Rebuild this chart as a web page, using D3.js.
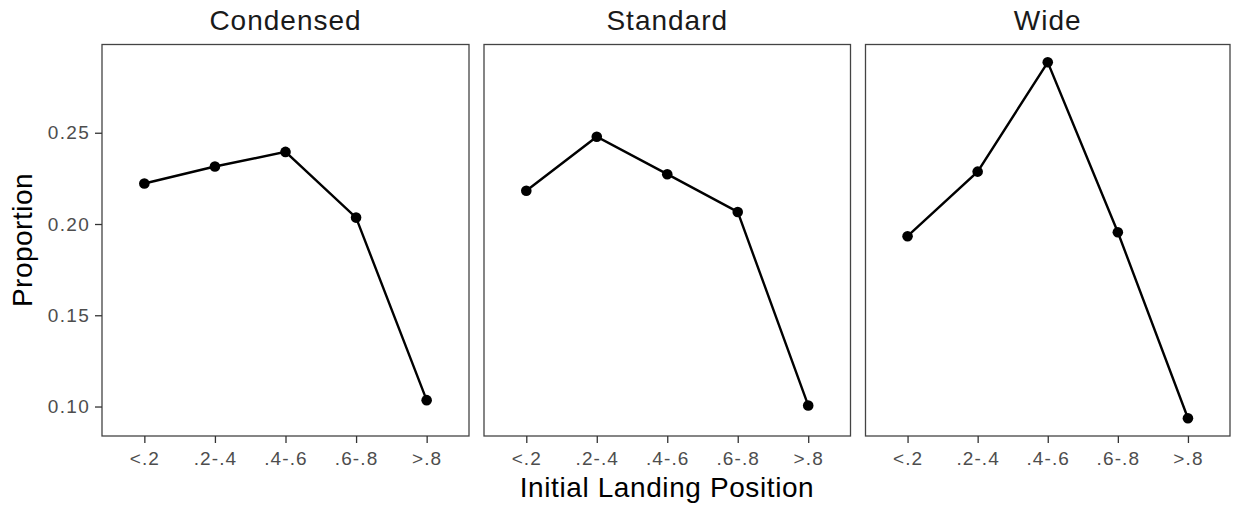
<!DOCTYPE html>
<html><head><meta charset="utf-8">
<script src="https://cdn.jsdelivr.net/npm/d3@7"></script>
<style>body{margin:0;background:#fff}svg{display:block}</style>
</head><body>
<svg id="c" width="1236" height="509"></svg>
<script>
const categories = ["<.2", ".2-.4", ".4-.6", ".6-.8", ">.8"];
const panels = ["Condensed", "Standard", "Wide"];
const condensed = [0.2222, 0.2315, 0.2395, 0.2035, 0.1035];
const standard = [0.2182, 0.2478, 0.2273, 0.2066, 0.1006];
const wide = [0.1933, 0.2287, 0.2886, 0.1955, 0.0936];
const yTicks = [0.10, 0.15, 0.20, 0.25];
const seriesList = [condensed, standard, wide];

const svg = d3.select("#c");
const font = "'Liberation Sans', Arial, sans-serif";
const panelTop = 44.5, panelBottom = 436;
const panelX = [[102, 469], [484, 850.5], [865.5, 1230]];

const all = seriesList.flat();
const mn = d3.min(all), mx = d3.max(all), pad = (mx - mn) * 0.05;
const y = d3.scaleLinear().domain([mn - pad, mx + pad]).range([panelBottom, panelTop]);

panels.forEach((name, i) => {
  const [x0, x1] = panelX[i];
  const x = d3.scalePoint().domain(categories).range([x0, x1]).padding(0.6);
  const g = svg.append("g");
  const vals = seriesList[i];
  g.append("path")
    .datum(vals)
    .attr("fill", "none").attr("stroke", "#000").attr("stroke-width", 2.4)
    .attr("d", d3.line().x((d, j) => x(categories[j])).y(d => y(d)));
  g.selectAll("circle").data(vals).join("circle")
    .attr("cx", (d, j) => x(categories[j])).attr("cy", d => y(d)).attr("r", 5.3).attr("fill", "#000");
  g.append("rect").attr("x", x0).attr("y", panelTop).attr("width", x1 - x0).attr("height", panelBottom - panelTop)
    .attr("fill", "none").attr("stroke", "#444").attr("stroke-width", 1.3);
  const xa = svg.append("g").attr("transform", `translate(0,${panelBottom})`)
    .call(d3.axisBottom(x).tickSize(7).tickPadding(8.5));
  xa.select(".domain").remove();
  xa.selectAll("line").attr("stroke", "#333").attr("stroke-width", 1.3);
  xa.selectAll("text").attr("font-family", font).attr("font-size", 19).attr("letter-spacing", 1.1).attr("fill", "#4d4d4d");
  svg.append("text").attr("x", (x0 + x1) / 2).attr("y", 30).attr("text-anchor", "middle")
    .attr("font-family", font).attr("font-size", 28).attr("letter-spacing", 1).attr("fill", "#1a1a1a").text(name);
  if (i === 0) {
    const ya = svg.append("g").attr("transform", `translate(${x0},0)`)
      .call(d3.axisLeft(y).tickValues(yTicks).tickFormat(d3.format(".2f")).tickSize(7).tickPadding(5));
    ya.select(".domain").remove();
    ya.selectAll("line").attr("stroke", "#333").attr("stroke-width", 1.3);
    ya.selectAll("text").attr("font-family", font).attr("font-size", 19).attr("letter-spacing", 1.3).attr("fill", "#4d4d4d");
  }
});

svg.append("text").attr("x", 667).attr("y", 497).attr("text-anchor", "middle")
  .attr("font-family", font).attr("font-size", 28).attr("letter-spacing", 0.6).attr("fill", "#000").text("Initial Landing Position");
svg.append("text").attr("transform", `translate(32,240) rotate(-90)`).attr("text-anchor", "middle")
  .attr("font-family", font).attr("font-size", 28).attr("letter-spacing", 0.5).attr("fill", "#000").text("Proportion");
</script>
</body></html>
